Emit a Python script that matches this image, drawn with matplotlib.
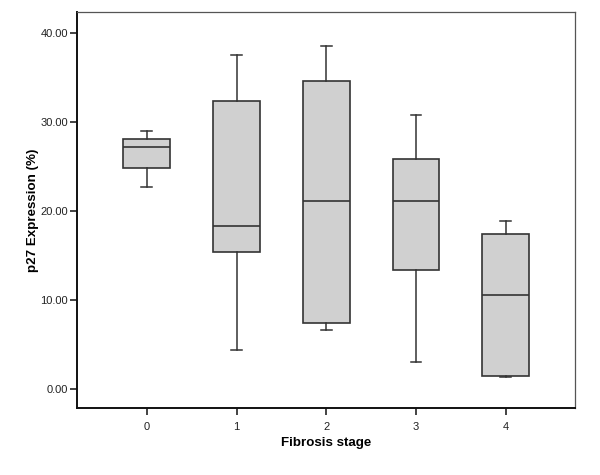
import matplotlib
matplotlib.use("Agg")
import matplotlib.pyplot as plt
from matplotlib.ticker import FormatStrFormatter

plt.rcParams['font.family'] = ['Liberation Sans', 'DejaVu Sans']

# box stats
stages = ['0', '1', '2', '3', '4']
whislo = [22.7, 4.4, 6.7, 3.1, 1.4]
q1 = [24.9, 15.4, 7.5, 13.45, 1.45]
med = [27.2, 18.4, 21.1, 21.2, 10.55]
q3 = [28.1, 32.4, 34.6, 25.9, 17.45]
whishi = [29.0, 37.5, 38.6, 30.8, 18.95]

stats = []
for i in range(len(stages)):
    stats.append(dict(label=stages[i], whislo=whislo[i], q1=q1[i], med=med[i],
                      q3=q3[i], whishi=whishi[i], fliers=[]))

fig = plt.figure(figsize=(6, 4.75), dpi=100)
ax = fig.add_axes([0.128, 0.141, 0.830, 0.834])

edge = '#333333'
ax.bxp(stats, positions=range(len(stages)), widths=0.52, capwidths=0.12,
       patch_artist=True, showfliers=False,
       boxprops=dict(facecolor='#d0d0d0', edgecolor=edge, linewidth=1.2),
       medianprops=dict(color=edge, linewidth=1.2),
       whiskerprops=dict(color=edge, linewidth=1.1),
       capprops=dict(color=edge, linewidth=1.1))

ax.set_xlim(-0.78, 4.77)
ax.set_ylim(-2.1, 42.4)
ax.set_yticks([0, 10, 20, 30, 40])
ax.yaxis.set_major_formatter(FormatStrFormatter('%.2f'))
ax.tick_params(direction='out', length=5, width=1.2, labelsize=8, colors='#222222')
ax.tick_params(axis='y', pad=1.5)
ax.tick_params(axis='x', pad=5)

for side in ['left', 'bottom']:
    ax.spines[side].set_linewidth(1.4)
    ax.spines[side].set_color('#111111')
for side in ['top', 'right']:
    ax.spines[side].set_linewidth(0.9)
    ax.spines[side].set_color('#555555')

ax.set_xlabel('Fibrosis stage', fontsize=9.6, fontweight='bold', labelpad=4)
ax.set_ylabel('p27 Expression (%)', fontsize=9.6, fontweight='bold', labelpad=0.5)

fig.savefig('out.png', dpi=100)
